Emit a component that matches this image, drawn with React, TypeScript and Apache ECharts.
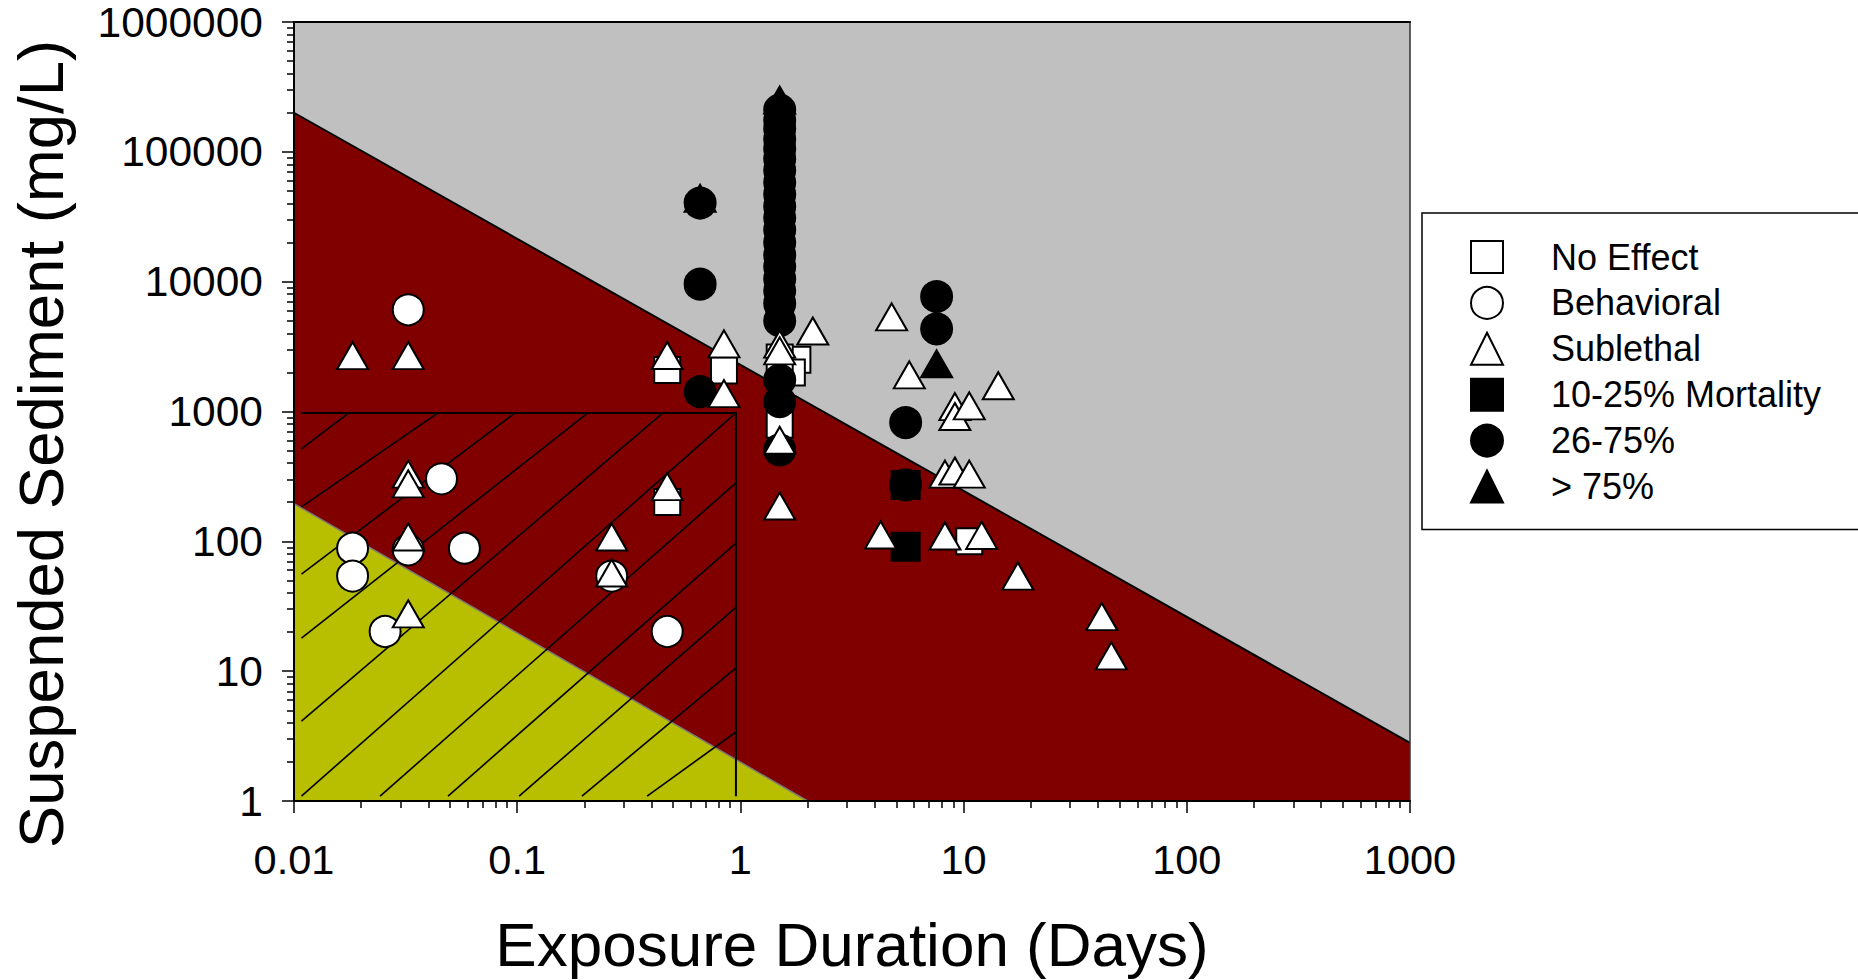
import React, { useEffect, useRef } from "react";
import * as echarts from "echarts";

const FONT = '"Liberation Sans", Arial, Helvetica, sans-serif';

// ---- axes / texts ----
const xTickValues = [0.01, 0.1, 1, 10, 100, 1000];
const xTickLabels = ["0.01", "0.1", "1", "10", "100", "1000"];
const yTickValues = [1, 10, 100, 1000, 10000, 100000, 1000000];
const yTickLabels = ["1", "10", "100", "1000", "10000", "100000", "1000000"];
const xTitle = "Exposure Duration (Days)";
const yTitle = "Suspended Sediment (mg/L)";
const legendOrder = ["No Effect", "Behavioral", "Sublethal", "10-25% Mortality", "26-75%", "> 75%"];

// ---- background zones (data coordinates) ----
const upperBoundary = [[0.01, 200000], [1000, 2.8]];
const lowerBoundary = [[0.01, 195], [2.0, 1]];
const hatchBoxOutline = [[0.0108, 975], [0.955, 975], [0.955, 1.09]];
const hatchLines = [
  [[0.0108, 515], [0.0176, 975]],
  [[0.0108, 184], [0.0442, 975]],
  [[0.0108, 56], [0.0977, 975]],
  [[0.0108, 18], [0.2075, 975]],
  [[0.0108, 4.13], [0.45, 975]],
  [[0.0108, 1.09], [0.955, 975]],
  [[0.0243, 1.09], [0.955, 282]],
  [[0.049, 1.09], [0.955, 97]],
  [[0.102, 1.09], [0.955, 31]],
  [[0.195, 1.09], [0.955, 10.6]],
  [[0.382, 1.09], [0.955, 3.4]],
];

// ---- observations [duration (days), concentration (mg/L)] ----
const noEffect = [
  [0.47, 2090], [0.844, 2070], [1.8, 2500], [1.7, 2000], [1.5, 2600],
  [1.5, 790], [0.47, 201], [10.6, 100],
];
const behavioral = [
  [0.0325, 6070], [0.0458, 303], [0.0183, 88.5], [0.0183, 54], [0.0325, 86],
  [0.058, 88.5], [0.0256, 20.2], [0.265, 54], [0.47, 20.2],
];
const sublethal = [
  [0.0183, 2695], [0.0325, 2695], [0.0325, 329], [0.0325, 277], [0.0325, 108],
  [0.0325, 27.6], [0.265, 108], [0.265, 57], [0.47, 2700], [0.47, 264],
  [0.844, 3320], [0.844, 1374], [1.5, 3300], [1.5, 2930], [1.5, 600],
  [1.5, 187], [2.11, 4170], [4.76, 5350], [5.71, 1915], [14.3, 1580],
  [9.14, 1090], [9.14, 915], [10.6, 1105], [8.25, 329], [9.14, 348],
  [10.6, 329], [4.25, 112], [8.25, 110], [12.05, 111], [17.5, 54],
  [41.6, 26.3], [45.9, 13.1],
];
const mortality10to25 = [[5.5, 272], [5.5, 91]];
const mortality26to75 = [
  [0.66, 40300], [0.66, 9570], [0.66, 1420],
  [1.5, 210000], [1.5, 175000], [1.5, 150000], [1.5, 125000], [1.5, 105000],
  [1.5, 88000], [1.5, 72000], [1.5, 58000], [1.5, 47000], [1.5, 38000],
  [1.5, 31000], [1.5, 25000], [1.5, 20000], [1.5, 16000], [1.5, 13000],
  [1.5, 10500], [1.5, 8500], [1.5, 6800], [1.5, 5000], [1.5, 1750],
  [1.5, 1190], [1.5, 506],
  [5.5, 821], [5.5, 272], [7.57, 7680], [7.57, 4330],
];
const mortalityOver75 = [[1.5, 250000], [0.66, 43800], [7.57, 2330]];

function minorTicks(lo: number, hi: number) {
  const out: number[] = [];
  for (let e = lo; e < hi; e++) {
    for (let m = 2; m <= 9; m++) out.push(Number((m * Math.pow(10, e)).toPrecision(6)));
  }
  return out;
}

function labelFor(values: number[], labels: string[]) {
  return (v: number) => {
    const lv = Math.log10(v);
    let best = 0;
    for (let i = 0; i < values.length; i++) {
      if (Math.abs(Math.log10(values[i]) - lv) < Math.abs(Math.log10(values[best]) - lv)) best = i;
    }
    return labels[best];
  };
}

export default function App() {
  const ref = useRef<HTMLDivElement | null>(null);

  useEffect(() => {
    if (!ref.current) return;
    const chart = echarts.init(ref.current, undefined, { renderer: "svg" });

    const whiteStyle = { color: "#ffffff", borderColor: "#000000", borderWidth: 2, opacity: 1 };
    const blackStyle = { color: "#000000", borderColor: "#000000", borderWidth: 2, opacity: 1 };

    const zoneSeries = {
      type: "custom",
      name: "zones",
      silent: true,
      z: 1,
      xAxisIndex: 0,
      yAxisIndex: 0,
      data: [[1, 1]],
      renderItem: (_p: any, api: any) => {
        const bottomLeft = api.coord([0.01, 1]);
        const redPts = [
          api.coord(upperBoundary[0]),
          api.coord(upperBoundary[1]),
          api.coord([upperBoundary[1][0], 1]),
          bottomLeft,
        ];
        const yellowPts = [api.coord(lowerBoundary[0]), api.coord(lowerBoundary[1]), bottomLeft];
        const children: any[] = [
          { type: "polygon", shape: { points: redPts }, style: { fill: "#800000", stroke: null } },
          { type: "polygon", shape: { points: yellowPts }, style: { fill: "#B8BE00", stroke: null } },
          {
            type: "polyline",
            shape: { points: upperBoundary.map((p) => api.coord(p)) },
            style: { stroke: "#000000", lineWidth: 2, fill: null },
          },
          {
            type: "polyline",
            shape: { points: lowerBoundary.map((p) => api.coord(p)) },
            style: { stroke: "#7a7a7a", lineWidth: 1.5, fill: null },
          },
        ];
        hatchLines.forEach((seg) => {
          const a = api.coord(seg[0]);
          const b = api.coord(seg[1]);
          children.push({
            type: "line",
            shape: { x1: a[0], y1: a[1], x2: b[0], y2: b[1] },
            style: { stroke: "#000000", lineWidth: 1.6 },
          });
        });
        children.push({
          type: "polyline",
          shape: { points: hatchBoxOutline.map((p) => api.coord(p)) },
          style: { stroke: "#000000", lineWidth: 2, fill: null },
        });
        return { type: "group", children };
      },
    };

    const scatter = (name: string, data: number[][], symbol: string, size: any, style: any) => ({
      type: "scatter",
      name,
      data,
      symbol,
      symbolSize: size,
      itemStyle: style,
      z: 5,
      xAxisIndex: 0,
      yAxisIndex: 0,
      emphasis: { disabled: true },
    });

    const tickStyle = { color: "#000000", width: 1.5 };

    const option: any = {
      animation: false,
      backgroundColor: "#ffffff",
      textStyle: { fontFamily: FONT, color: "#000000" },
      grid: {
        left: 294,
        top: 22,
        width: 1116,
        height: 779,
        show: true,
        backgroundColor: "#C0C0C0",
        borderColor: "#000000",
        borderWidth: 0,
        containLabel: false,
        outerBoundsMode: "none",
      },
      xAxis: [
        {
          type: "log",
          logBase: 10,
          min: 0.01,
          max: 1000,
          position: "bottom",
          z: 10,
          name: xTitle,
          nameLocation: "middle",
          nameGap: 112,
          nameTextStyle: { fontSize: 62, fontFamily: FONT, color: "#000000" },
          axisLine: { show: true, onZero: false, lineStyle: { color: "#000000", width: 2 } },
          axisTick: { show: true, length: 12, customValues: xTickValues, lineStyle: tickStyle },
          minorTick: { show: false },
          splitLine: { show: false },
          axisLabel: {
            show: true,
            customValues: xTickValues,
            interval: 0,
            margin: 37,
            fontSize: 41.5,
            fontFamily: FONT,
            color: "#000000",
            formatter: labelFor(xTickValues, xTickLabels),
          },
        },
        {
          type: "log",
          logBase: 10,
          min: 0.01,
          max: 1000,
          position: "bottom",
          z: 10,
          axisLine: { show: false },
          axisTick: { show: true, length: 7, customValues: minorTicks(-2, 3), lineStyle: tickStyle },
          axisLabel: { show: false },
          splitLine: { show: false },
        },
        {
          type: "log",
          logBase: 10,
          min: 0.01,
          max: 1000,
          position: "top",
          z: 10,
          axisLine: { show: true, onZero: false, lineStyle: { color: "#000000", width: 2 } },
          axisTick: { show: false },
          axisLabel: { show: false },
          splitLine: { show: false },
        },
      ],
      yAxis: [
        {
          type: "log",
          logBase: 10,
          min: 1,
          max: 1000000,
          position: "left",
          z: 10,
          axisLine: { show: true, onZero: false, lineStyle: { color: "#000000", width: 2 } },
          axisTick: { show: true, length: 12, customValues: yTickValues, lineStyle: tickStyle },
          minorTick: { show: false },
          splitLine: { show: false },
          axisLabel: {
            show: true,
            customValues: yTickValues,
            interval: 0,
            margin: 31,
            fontSize: 42.5,
            fontFamily: FONT,
            color: "#000000",
            formatter: labelFor(yTickValues, yTickLabels),
          },
        },
        {
          type: "log",
          logBase: 10,
          min: 1,
          max: 1000000,
          position: "left",
          z: 10,
          axisLine: { show: false },
          axisTick: { show: true, length: 7, customValues: minorTicks(0, 6), lineStyle: tickStyle },
          axisLabel: { show: false },
          splitLine: { show: false },
        },
        {
          type: "log",
          logBase: 10,
          min: 1,
          max: 1000000,
          position: "right",
          z: 10,
          axisLine: { show: true, onZero: false, lineStyle: { color: "#333333", width: 1.5 } },
          axisTick: { show: false },
          axisLabel: { show: false },
          splitLine: { show: false },
        },
      ],
      legend: {
        show: true,
        data: legendOrder,
        orient: "vertical",
        left: 1422,
        top: 213,
        padding: [26, 60, 25, 48],
        itemWidth: 32,
        itemHeight: 32,
        itemGap: 9.9,
        symbolKeepAspect: true,
        selectedMode: false,
        backgroundColor: "#ffffff",
        borderColor: "#000000",
        borderWidth: 1.5,
        borderRadius: 0,
        textStyle: {
          fontSize: 36,
          lineHeight: 36,
          fontFamily: FONT,
          color: "#000000",
          padding: [0, 0, 0, 43],
        },
      },
      graphic: [
        {
          type: "text",
          x: 41,
          y: 444,
          rotation: Math.PI / 2,
          style: {
            text: yTitle,
            font: `63.5px ${FONT}`,
            fill: "#000000",
            align: "center",
            verticalAlign: "middle",
            textAlign: "center",
            textVerticalAlign: "middle",
          },
        },
      ],
      series: [
        zoneSeries,
        scatter("No Effect", noEffect, "rect", 26, whiteStyle),
        scatter("Behavioral", behavioral, "circle", 31, whiteStyle),
        scatter("10-25% Mortality", mortality10to25, "rect", 28, blackStyle),
        scatter("26-75%", mortality26to75, "circle", 31, blackStyle),
        scatter("> 75%", mortalityOver75, "triangle", [31, 27], blackStyle),
        scatter("Sublethal", sublethal, "triangle", [31, 27], whiteStyle),
      ],
    };

    chart.setOption(option);
    return () => {
      chart.dispose();
    };
  }, []);

  return (
    <div
      ref={ref}
      style={{ position: "fixed", left: 0, top: 0, width: 1858, height: 980, background: "#ffffff" }}
    />
  );
}
